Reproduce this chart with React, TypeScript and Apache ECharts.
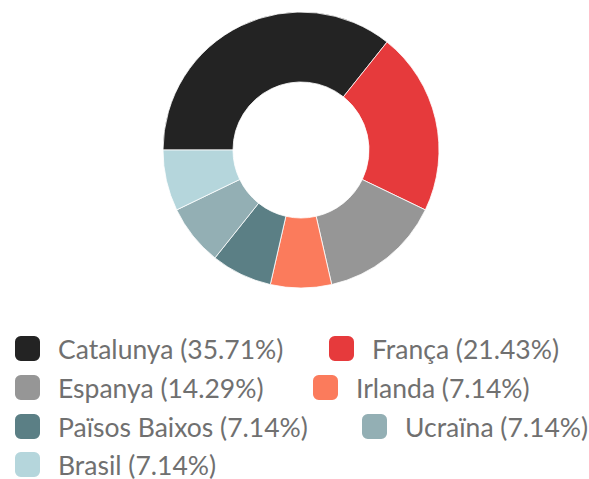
import React, { useEffect, useRef } from "react";
import * as echarts from "echarts";

const categories = ["Catalunya", "França", "Espanya", "Irlanda", "Països Baixos", "Ucraïna", "Brasil"];
const counts = [5, 3, 2, 1, 1, 1, 1];
const colors = ["#232323", "#e63a3c", "#969696", "#fb7b5c", "#5b7f85", "#93afb4", "#b5d6dc"];
// legend placement (left, top) per category
const legendPos: [number, number][] = [
  [13, 334],
  [327, 334],
  [13, 373],
  [311, 373],
  [13, 412],
  [360, 412],
  [13, 450],
];

const total = counts.reduce((a, b) => a + b, 0);
const pct = (v: number) => ((v / total) * 100).toFixed(2) + "%";

export default function App() {
  const ref = useRef<HTMLDivElement>(null);
  useEffect(() => {
    if (!ref.current) return;
    const chart = echarts.init(ref.current, undefined, { renderer: "svg" });
    const legends = categories.map((name, i) => ({
      data: [name],
      left: legendPos[i][0],
      top: legendPos[i][1],
      padding: 0,
      orient: "horizontal",
      icon: "roundRect",
      itemWidth: 27,
      itemHeight: 27,
      selectedMode: false,
      formatter: (n: string) => `${n} (${pct(counts[categories.indexOf(n)])})`,
      textStyle: {
        fontFamily: "Lato",
        fontSize: 26.5,
        lineHeight: 27,
        color: "#707070",
        padding: [0, 0, 0, 12],
      },
    }));
    chart.setOption({
      animation: false,
      color: colors,
      legend: legends,
      series: [
        {
          type: "pie",
          center: [301, 150],
          radius: [68, 138],
          startAngle: 180,
          clockwise: true,
          label: { show: false },
          labelLine: { show: false },
          silent: true,
          itemStyle: { borderColor: "#ffffff", borderWidth: 0.8 },
          data: categories.map((name, i) => ({ name, value: counts[i] })),
        },
      ],
    });
    return () => chart.dispose();
  }, []);
  return (
    <div
      ref={ref}
      style={{ position: "absolute", left: 0, top: 0, width: 589, height: 479, background: "#fff" }}
    />
  );
}
